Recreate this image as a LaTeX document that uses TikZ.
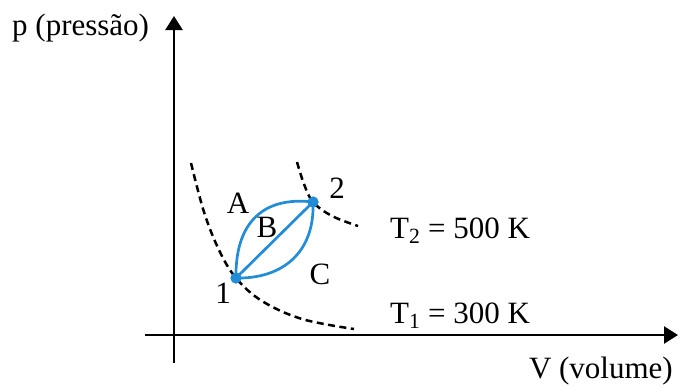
\documentclass[tikz,border=0pt]{standalone}
\usepackage{fontspec}
\setmainfont{Liberation Serif}
\usetikzlibrary{arrows.meta}
\definecolor{cblue}{RGB}{35,140,215}
\begin{document}
\begin{tikzpicture}[x=1pt,y=-1pt,
  axis/.style={line width=2.4pt,-{Triangle[length=14pt,width=17pt]}},
  iso/.style={line width=2.5pt,dash pattern=on 7pt off 4.5pt},
  proc/.style={line width=2.7pt,cblue},
  lbl/.style={font=\fontsize{31}{34}\selectfont,inner sep=0pt},
  pt/.style={circle,fill=cblue,minimum size=11pt,inner sep=0pt}]
\useasboundingbox (0,0) rectangle (679,386);
\coordinate (yb) at (174,363);
\coordinate (yt) at (174,16);
\coordinate (xl) at (145,335);
\coordinate (xr) at (678,335);
\draw[axis] (yb) -- (yt);
\draw[axis] (xl) -- (xr);
\node[pt] (p1) at (236,278) {};
\node[pt] (p2) at (313,202) {};
% isotherms
\draw[iso] plot[smooth,tension=0.6] coordinates {(191,163) (204,212) (219,250) (236,278) (262,301) (302,319) (354,329)};
\draw[iso] plot[smooth,tension=0.6] coordinates {(297,162) (304,184) (313,202) (332,216) (358,226)};
% processes
\draw[proc] (p1.center) .. controls (235,223) and (263,196) .. (p2.center);
\draw[proc] (p1.center) -- (p2.center);
\draw[proc] (p1.center) .. controls (284,279) and (315,251) .. (p2.center);
\node[pt] at (p1) {};
\node[pt] at (p2) {};
% labels
\node[lbl,anchor=base west] (ylab) at (12,35) {p (pressão)};
\node[lbl,anchor=base east] (xlab) at (673,378) {V (volume)};
\node[lbl,anchor=base west] (t2) at (390,238) {T\textsubscript{2} = 500 K};
\node[lbl,anchor=base west] (t1) at (390,323) {T\textsubscript{1} = 300 K};
\node[lbl,anchor=base] (la) at (238,213) {A};
\node[lbl,anchor=base] (lb) at (267,237) {B};
\node[lbl,anchor=base] (lc) at (320,284) {C};
\node[lbl,anchor=base] (l1) at (223,303) {1};
\node[lbl,anchor=base] (l2) at (337,198) {2};
\end{tikzpicture}
\end{document}
